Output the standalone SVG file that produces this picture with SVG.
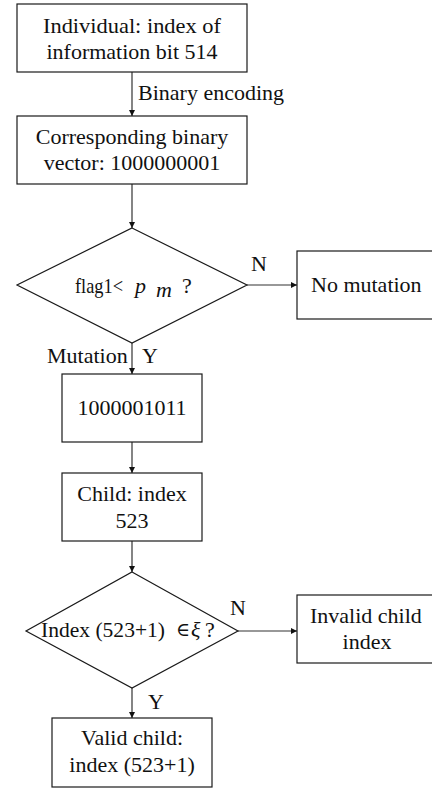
<svg xmlns="http://www.w3.org/2000/svg" width="432" height="788" viewBox="0 0 432 788">
<style>
.box{fill:#fff;stroke:#1a1a1a;stroke-width:1.2}
.t{font-family:"Liberation Serif","Times New Roman",serif;font-size:22px;fill:#111}
.c{text-anchor:middle}
.ln{stroke:#333;stroke-width:1.2;fill:none}
</style>
<defs>
<marker id="ah" viewBox="0 0 10 10" refX="10" refY="5" markerWidth="6" markerHeight="7" markerUnits="userSpaceOnUse" orient="auto">
<path d="M0,0 L10,5 L0,10 z" fill="#111"/>
</marker>
</defs>
<rect width="432" height="788" fill="#fff"/>
<g id="connectors">
<line class="ln" x1="132" y1="72" x2="132" y2="116" marker-end="url(#ah)"/>
<line class="ln" x1="132" y1="184" x2="132" y2="228" marker-end="url(#ah)"/>
<line class="ln" x1="247" y1="285" x2="297" y2="285" marker-end="url(#ah)"/>
<line class="ln" x1="132" y1="343" x2="132" y2="374" marker-end="url(#ah)"/>
<line class="ln" x1="132" y1="442" x2="132" y2="473" marker-end="url(#ah)"/>
<line class="ln" x1="132" y1="541" x2="132" y2="572" marker-end="url(#ah)"/>
<line class="ln" x1="238" y1="631" x2="297" y2="631" marker-end="url(#ah)"/>
<line class="ln" x1="132" y1="688" x2="132" y2="718" marker-end="url(#ah)"/>
<text class="t" x="138" y="100">Binary encoding</text>
<text class="t" x="251" y="271">N</text>
<text class="t" x="47" y="363">Mutation</text>
<text class="t" x="142" y="363">Y</text>
<text class="t" x="230" y="615">N</text>
<text class="t" x="148" y="709">Y</text>
</g>
<g id="n1">
<rect class="box" x="17" y="4" width="230" height="68"/>
<text class="t c" x="132" y="33" textLength="178" lengthAdjust="spacingAndGlyphs">Individual: index of</text>
<text class="t c" x="132" y="59">information bit 514</text>
</g>
<g id="n2">
<rect class="box" x="17" y="116" width="230" height="68"/>
<text class="t c" x="132" y="144">Corresponding binary</text>
<text class="t c" x="132" y="170">vector: 1000000001</text>
</g>
<g id="d1">
<polygon class="box" points="132,228 247,285 132,343 17,285"/>
<text class="t" x="75" y="293" font-size="21" textLength="48" lengthAdjust="spacingAndGlyphs">flag1&lt;</text>
<text class="t" x="135" y="293" font-style="italic">p</text>
<text class="t" x="156" y="297" font-style="italic" font-size="12">m</text>
<text class="t" x="182" y="293">?</text>
</g>
<g id="n3">
<rect class="box" x="297" y="251" width="141" height="68"/>
<text class="t" x="311" y="292">No mutation</text>
</g>
<g id="n4">
<rect class="box" x="62" y="374" width="140" height="68"/>
<text class="t c" x="132" y="415">1000001011</text>
</g>
<g id="n5">
<rect class="box" x="62" y="473" width="140" height="68"/>
<text class="t c" x="132" y="501">Child: index</text>
<text class="t c" x="132" y="528">523</text>
</g>
<g id="d2">
<polygon class="box" points="132,572 238,631 132,688 26,631"/>
<text class="t" x="41" y="637" textLength="124" lengthAdjust="spacingAndGlyphs">Index (523+1)</text>
<text x="176" y="636" font-family="DejaVu Serif, serif" font-size="19" fill="#111">∈</text>
<text class="t" x="191" y="637" font-style="italic" font-size="20">ξ</text>
<text class="t" x="205" y="637">?</text>
</g>
<g id="n6">
<rect class="box" x="297" y="595" width="141" height="68"/>
<text class="t" x="310" y="623">Invalid child</text>
<text class="t c" x="367" y="649">index</text>
</g>
<g id="n7">
<rect class="box" x="52" y="718" width="160" height="69"/>
<text class="t c" x="132" y="745">Valid child:</text>
<text class="t c" x="132" y="772">index (523+1)</text>
</g>
</svg>
